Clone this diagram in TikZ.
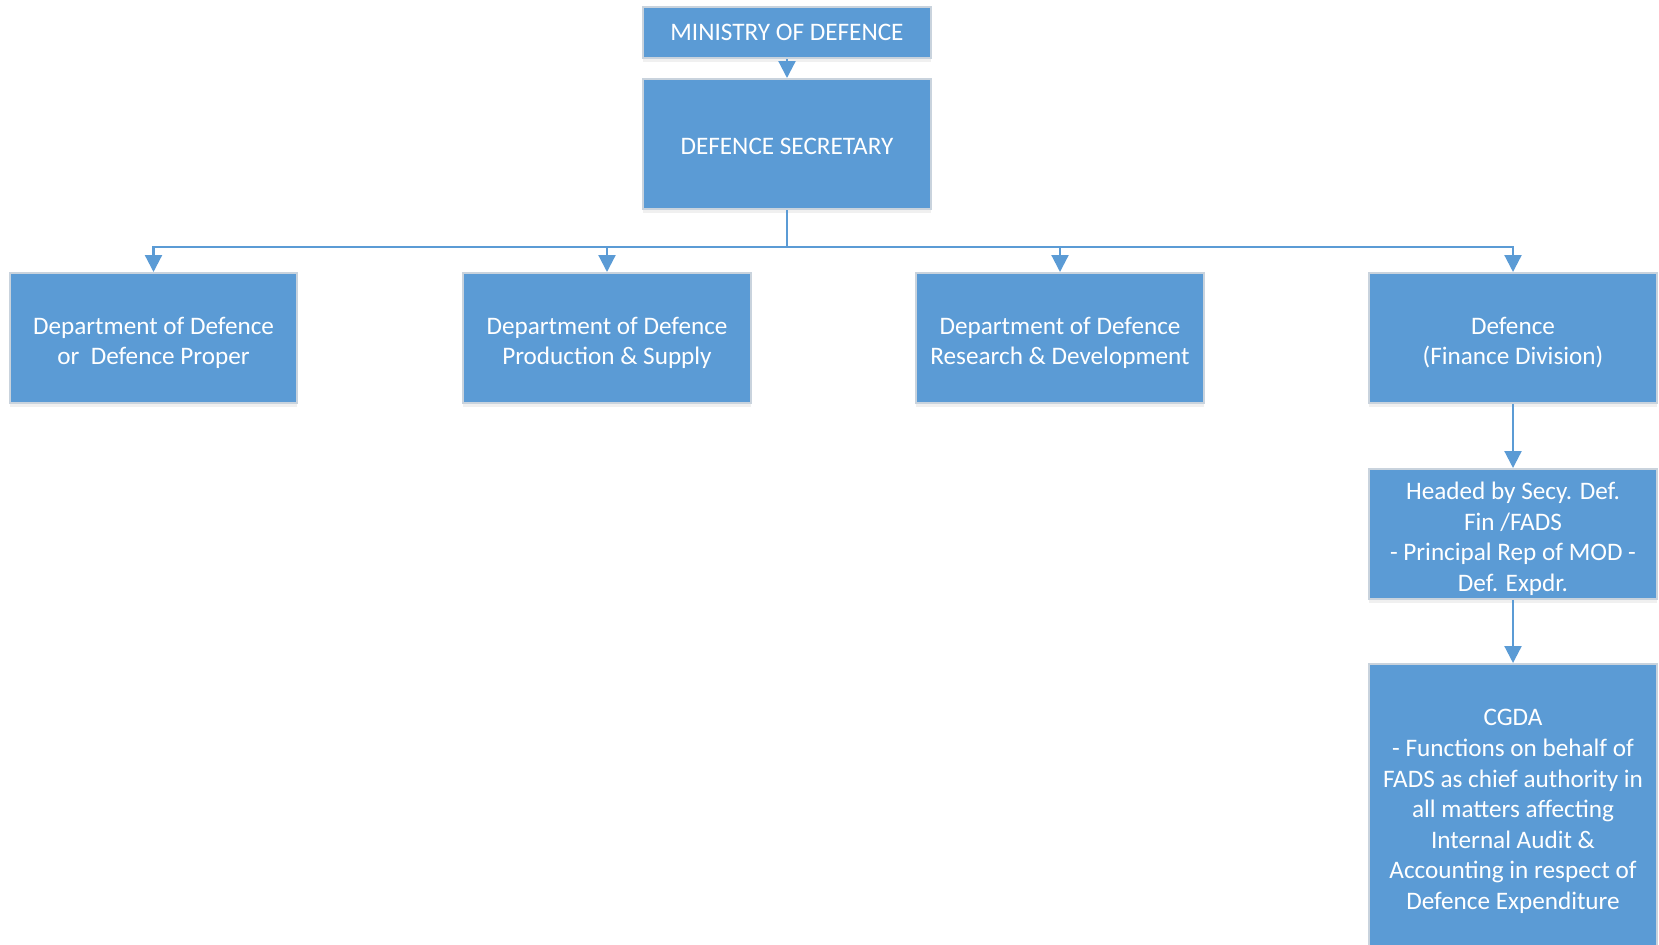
\documentclass[tikz,border=0pt]{standalone}
\usepackage{fontspec}
\setmainfont{Carlito}
\usetikzlibrary{arrows.meta,shadows}
\definecolor{boxblue}{HTML}{5B9BD5}
\definecolor{boxedge}{HTML}{C9D3DD}
\newcommand{\toppad}{\rule{0pt}{13.7pt}}
\tikzset{
  orgbox/.style={draw=boxedge, line width=1pt, fill=boxblue, text=white,
    align=center, inner sep=0pt, font=\fontsize{12.6pt}{15pt}\selectfont,
    drop shadow={opacity=0.12, shadow xshift=0pt, shadow yshift=-2pt}},
  conn/.style={draw=boxblue, line width=1.1pt},
  arr/.style={conn, -{Triangle[width=8.5pt,length=8.5pt]}}
}
\begin{document}
\begin{tikzpicture}[x=0.5pt,y=-0.5pt]
\useasboundingbox (0,0) rectangle (1659,944);
\clip (0,0) rectangle (1659,944);
\node[orgbox, minimum width=144pt, minimum height=25.5pt] (mod) at (787,32.5) {MINISTRY OF DEFENCE};
\node[orgbox, minimum width=144pt, minimum height=65pt] (ds) at (787,144) {\rule{0pt}{11pt}DEFENCE SECRETARY};
\node[orgbox, minimum width=143.5pt, minimum height=65pt] (d1) at (153.5,338) {\toppad Department of Defence\\or~ Defence Proper};
\node[orgbox, minimum width=144pt, minimum height=65pt] (d2) at (607,338) {\toppad Department of Defence\\Production \& Supply};
\node[orgbox, minimum width=144pt, minimum height=65pt] (d3) at (1060,338) {\toppad Department of Defence\\Research \& Development};
\node[orgbox, minimum width=144pt, minimum height=65pt] (d4) at (1513,338) {\toppad Defence\\(Finance Division)};
\node[orgbox, minimum width=144pt, minimum height=65pt, font=\fontsize{12.6pt}{15.3pt}\selectfont] (fin) at (1513,534) {\toppad Headed by Secy. Def.\\Fin /FADS\\- Principal Rep of MOD -\\Def. Expdr.};
\node[orgbox, minimum width=144pt, minimum height=142pt, font=\fontsize{12.6pt}{15.3pt}\selectfont] (cgda) at (1513,806) {\toppad CGDA\\- Functions on behalf of\\FADS as chief authority in\\all matters affecting\\Internal Audit \&\\Accounting in respect of\\Defence Expenditure};
\coordinate (bus) at (787,247);
\draw[arr] (mod.south) -- (ds.north);
\draw[arr] (ds.south) -- (bus) -| (d1.north);
\draw[arr] (ds.south) -- (bus) -| (d2.north);
\draw[arr] (ds.south) -- (bus) -| (d3.north);
\draw[arr] (ds.south) -- (bus) -| (d4.north);
\draw[arr] (d4.south) -- (fin.north);
\draw[arr] (fin.south) -- (cgda.north);
\end{tikzpicture}
\end{document}
